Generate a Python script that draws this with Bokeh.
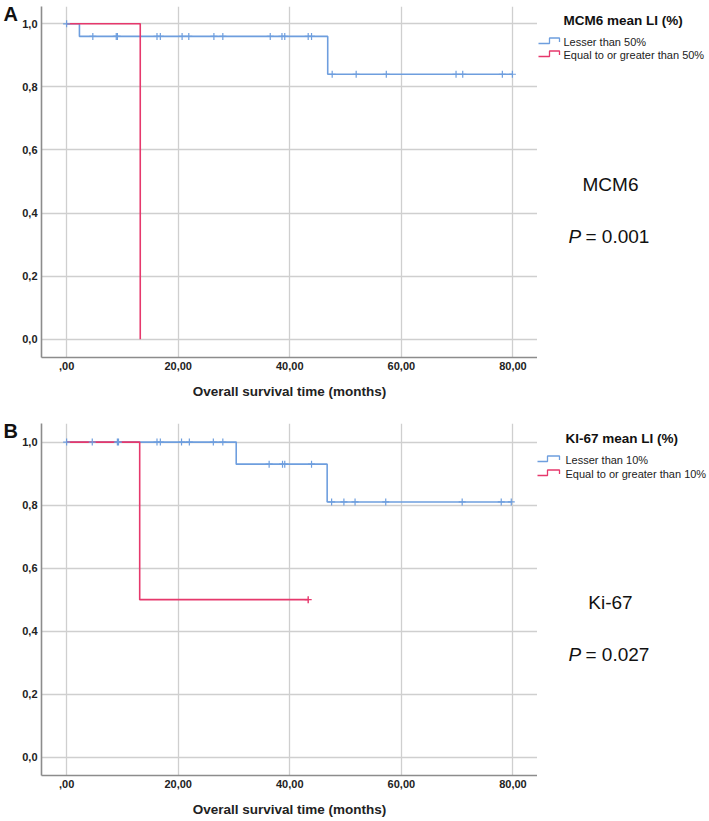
import numpy as np
from bokeh.plotting import figure
from bokeh.models import Range1d, FixedTicker
from bokeh.core.properties import value
from bokeh.layouts import column, row
from bokeh.embed import file_html
from bokeh.resources import INLINE

# ---------------- data ----------------
x_ticks = [0, 20, 40, 60, 80]
x_tick_labels = [",00", "20,00", "40,00", "60,00", "80,00"]
y_ticks = [0.0, 0.2, 0.4, 0.6, 0.8, 1.0]
y_tick_labels = ["0,0", "0,2", "0,4", "0,6", "0,8", "1,0"]

# Panel A (MCM6)
a_low_t = [0, 2.3, 46.8, 80.0]
a_low_s = [1.0, 0.96, 0.84, 0.84]
a_high_t = [0, 13.2]
a_high_s = [1.0, 0.0]
a_low_cens_t = [0, 4.7, 8.9, 9.1, 16.2, 16.8, 20.7, 21.9, 26.4, 28.0, 36.5, 38.6, 39.1, 43.3, 43.9,
                47.6, 51.9, 57.3, 69.8, 71.0, 78.1, 79.9]
a_low_cens_s = [1.0] + [0.96] * 14 + [0.84] * 7
a_high_cens_t = []
a_high_cens_s = []

# Panel B (Ki-67)
b_low_t = [0, 30.4, 46.7, 79.7]
b_low_s = [1.0, 0.93, 0.81, 0.81]
b_high_t = [0, 13.1, 43.3]
b_high_s = [1.0, 0.5, 0.5]
b_low_cens_t = [0, 4.6, 9.1, 9.3, 16.2, 16.8, 20.6, 22.0, 26.3, 28.0,
                36.3, 38.7, 39.1, 43.9,
                47.5, 49.7, 51.7, 57.2, 70.9, 77.9, 79.7]
b_low_cens_s = [1.0] * 10 + [0.93] * 4 + [0.81] * 7
b_high_cens_t = [43.3]
b_high_cens_s = [0.5]

BLUE = "#6e9ede"
RED = "#e6386c"
FONT = "Liberation Sans"

PAGE_W = 709
LETTER_W = 18
FRAME_LEFT = 41          # page x of y-axis
FRAME_RIGHT = 537        # page x of right edge of plot area
X_RANGE = (-4.5, 84.4)


def blank_fig(width, height, x0, x1, top, bottom, btop, bbot):
    f = figure(width=width, height=height, output_backend="svg", toolbar_location=None,
               x_range=Range1d(x0, x1), y_range=Range1d(bottom, top),
               x_axis_location=None, y_axis_location=None,
               min_border_left=0, min_border_right=0, min_border_top=btop, min_border_bottom=bbot)
    f.grid.visible = False
    f.outline_line_color = None
    f.background_fill_color = "white"
    f.border_fill_color = "white"
    return f


def make_panel(page_top, border_top, frame_h, border_bottom, y_rng,
               low_t, low_s, high_t, high_s, lc_t, lc_s, hc_t, hc_s,
               letter, letter_y, leg_title, leg_x, leg_y, item_ys, sym_x0,
               item_labels, marker_name, marker_y, p_text, p_y):
    height = border_top + frame_h + border_bottom
    ftop = page_top + border_top
    fbot = ftop + frame_h

    # ---- left strip with the panel letter ----
    L = blank_fig(LETTER_W, height, 0, LETTER_W, ftop, fbot, border_top, border_bottom)
    L.text(x=[3], y=[letter_y], text=[letter], text_font=value(FONT), text_font_size="20px",
           text_font_style="bold", text_baseline="middle", text_align="left", text_color="#111111")

    # ---- main plot ----
    main_w = FRAME_RIGHT - LETTER_W
    p = figure(width=main_w, height=height, output_backend="svg", toolbar_location=None,
               x_range=Range1d(*X_RANGE), y_range=Range1d(*y_rng),
               min_border_left=FRAME_LEFT - LETTER_W, min_border_right=0,
               min_border_top=border_top, min_border_bottom=border_bottom)
    p.outline_line_color = None
    p.background_fill_color = "white"
    p.border_fill_color = "white"

    p.xgrid.ticker = FixedTicker(ticks=x_ticks)
    p.ygrid.ticker = FixedTicker(ticks=y_ticks)
    for g in (p.xgrid, p.ygrid):
        g.grid_line_color = "#cfcfcf"
        g.grid_line_width = 1.3

    p.xaxis.ticker = FixedTicker(ticks=x_ticks)
    p.yaxis.ticker = FixedTicker(ticks=y_ticks)
    p.xaxis.major_label_overrides = {t: l for t, l in zip(x_ticks, x_tick_labels)}
    p.yaxis.major_label_overrides = {t: l for t, l in zip(y_ticks, y_tick_labels)}
    for ax in (p.xaxis, p.yaxis):
        ax.axis_line_color = "#8c8c8c"
        ax.axis_line_width = 1.6
        ax.major_tick_line_color = None
        ax.minor_tick_line_color = None
        ax.major_tick_out = 0
        ax.major_tick_in = 0
        ax.minor_tick_out = 0
        ax.major_label_text_font = FONT
        ax.major_label_text_font_size = "11px"
        ax.major_label_text_font_style = "bold"
        ax.major_label_text_color = "#222222"
    p.xaxis.major_label_standoff = 4
    p.yaxis.major_label_standoff = 4
    p.xaxis.axis_label = "Overall survival time (months)"
    p.xaxis.axis_label_text_font = FONT
    p.xaxis.axis_label_text_font_size = "13.5px"
    p.xaxis.axis_label_text_font_style = "bold"
    p.xaxis.axis_label_text_color = "#222222"
    p.xaxis.axis_label_standoff = 11

    p.step(low_t, low_s, mode="after", line_color=BLUE, line_width=1.6)
    p.step(high_t, high_s, mode="after", line_color=RED, line_width=1.6)
    p.scatter(lc_t, lc_s, marker="cross", size=7, line_color=BLUE, line_width=1.2)
    if hc_t:
        p.scatter(hc_t, hc_s, marker="cross", size=7, line_color=RED, line_width=1.4)

    # ---- right strip with legend and statistics ----
    R = blank_fig(PAGE_W - FRAME_RIGHT, height, FRAME_RIGHT, PAGE_W, ftop, fbot,
                  border_top, border_bottom)
    R.text(x=[leg_x], y=[leg_y], text=[leg_title], text_font=value(FONT), text_font_size="13.5px",
           text_font_style="bold", text_baseline="middle", text_align="left", text_color="#111111")
    for iy, lab, col in zip(item_ys, item_labels, (BLUE, RED)):
        xa, xb, xc = sym_x0, sym_x0 + 11, 559
        ylo, yhi = iy + 2, iy - 3.5
        R.line([xa, xb, xb, xc, xc], [ylo, ylo, yhi, yhi, iy + 0.5], line_color=col, line_width=1.3)
        R.text(x=[leg_x], y=[iy], text=[lab], text_font=value(FONT), text_font_size="11px",
               text_baseline="middle", text_align="left", text_color="#222222")
    R.text(x=[610], y=[marker_y], text=[marker_name], text_font=value(FONT), text_font_size="19px",
           text_baseline="middle", text_align="center", text_color="#111111")
    R.text(x=[568], y=[p_y], text=["P"], text_font=value(FONT), text_font_size="19px",
           text_font_style="italic", text_baseline="middle", text_align="left", text_color="#111111")
    R.text(x=[585], y=[p_y], text=[p_text], text_font=value(FONT), text_font_size="19px",
           text_baseline="middle", text_align="left", text_color="#111111")

    return row(L, p, R, spacing=0)


pa = make_panel(page_top=0, border_top=6, frame_h=351, border_bottom=51,
                y_rng=(-0.0577, 1.0548),
                low_t=a_low_t, low_s=a_low_s, high_t=a_high_t, high_s=a_high_s,
                lc_t=a_low_cens_t, lc_s=a_low_cens_s, hc_t=a_high_cens_t, hc_s=a_high_cens_s,
                letter="A", letter_y=13, leg_title="MCM6 mean LI (%)", leg_x=563, leg_y=20,
                item_ys=[41, 54], sym_x0=538,
                item_labels=["Lesser than 50%", "Equal to or greater than 50%"],
                marker_name="MCM6", marker_y=184, p_text="= 0.001", p_y=236)

pb = make_panel(page_top=408, border_top=15, frame_h=352, border_bottom=46,
                y_rng=(-0.058, 1.059),
                low_t=b_low_t, low_s=b_low_s, high_t=b_high_t, high_s=b_high_s,
                lc_t=b_low_cens_t, lc_s=b_low_cens_s, hc_t=b_high_cens_t, hc_s=b_high_cens_s,
                letter="B", letter_y=430, leg_title="KI-67 mean LI (%)", leg_x=565, leg_y=438,
                item_ys=[459, 473], sym_x0=536,
                item_labels=["Lesser than 10%", "Equal to or greater than 10%"],
                marker_name="Ki-67", marker_y=602, p_text="= 0.027", p_y=654)

layout = column(pa, pb, spacing=0)
open("out.html", "w").write(file_html(layout, INLINE))
